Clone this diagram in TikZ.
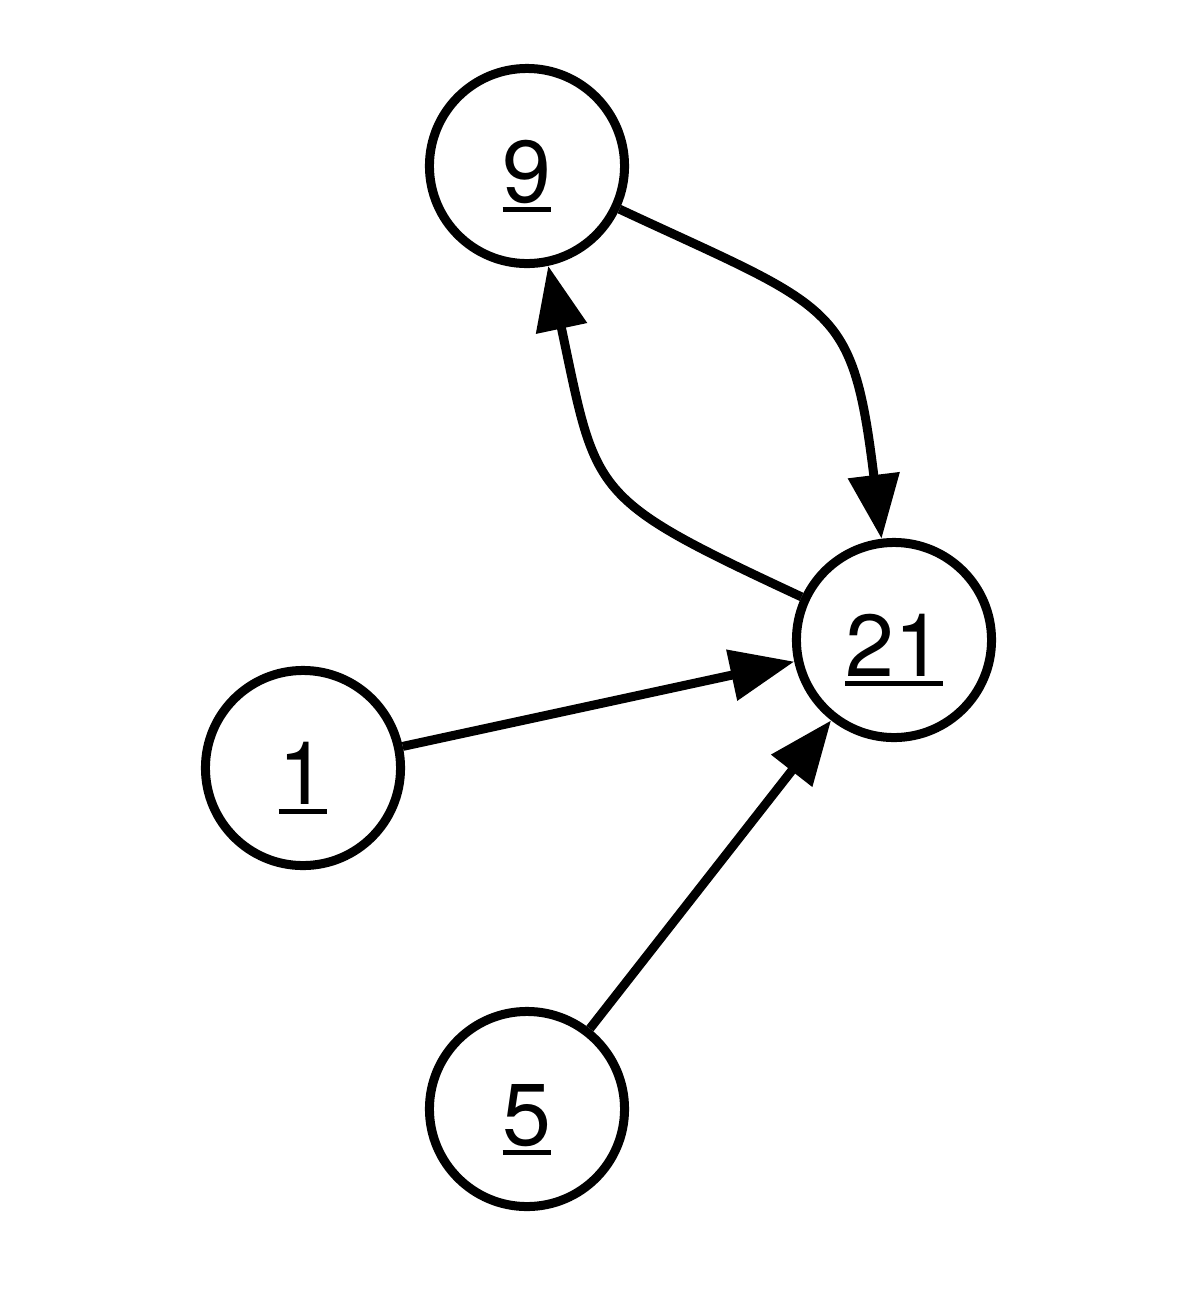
\documentclass[tikz,border=0pt]{standalone}
\usepackage{fontspec}
\setmainfont{TeX Gyre Heros}
\usetikzlibrary{arrows.meta, positioning}
\newcommand{\ulnum}[1]{\setbox0\hbox{#1}\rlap{\rule[-2.8pt]{\wd0}{1.5pt}}#1}

\begin{document}
\begin{tikzpicture}[x=0.01cm, y=-0.01cm,
    every node/.style={font=\fontsize{25}{30}\selectfont},
    vertex/.style={draw, circle, line width=0.09cm, minimum size=1.95cm, inner sep=0pt, text height=20.5pt, text depth=0pt},
    edge/.style={-{Triangle[length=0.64cm, width=0.5cm]}, line width=0.09cm}]
    \useasboundingbox (0,0) rectangle (1200,1305);
    \node[vertex] (n9) at (527,166) {\ulnum{9}};
    \node[vertex] (n21) at (894,640) {\ulnum{21}};
    \node[vertex] (n1) at (303,768) {\ulnum{1}};
    \node[vertex] (n5) at (527,1109) {\ulnum{5}};
    \draw[edge] (n9) to[out=-25, in=97, looseness=1.45] (n21);
    \draw[edge] (n21) to[out=155, in=-78, looseness=1.45] (n9);
    \draw[edge] (n1)--(n21);
    \draw[edge] (n5)--(n21);
  \end{tikzpicture}
\end{document}
